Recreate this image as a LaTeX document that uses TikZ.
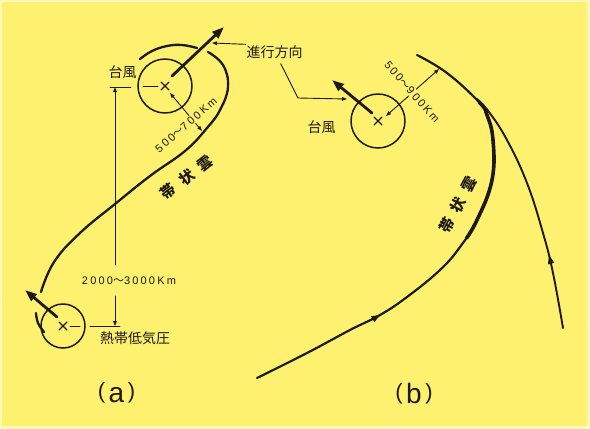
\documentclass[tikz,border=0pt]{standalone}
\usepackage{fontspec}
\setmainfont{Liberation Sans}
\newfontfamily\cjk{Noto Sans CJK JP}
\newfontfamily\numfont[LetterSpace=20]{Liberation Sans}
\usetikzlibrary{arrows.meta, calc, decorations.markings}
\definecolor{paper}{RGB}{255, 241, 112}
\definecolor{rim}{RGB}{255, 249, 185}
\definecolor{ink}{RGB}{28, 26, 18}
\tikzset{every path/.style={line cap=round, line join=round}, >={Triangle[length=5pt, width=3.6pt]}}

\begin{document}
\begin{tikzpicture}[x=1pt, y=-1pt,
    storm/.style={
        draw=ink,
        circle,
        line width=1.5pt,
        inner sep=0pt
    },
    centremark/.style={
        draw=ink,
        line width=1.3pt
    },
    band/.style={
        draw=ink,
        line width=2.3pt
    },
    motion/.style={
        draw=ink,
        line width=2.8pt,
        -{Triangle[length=12pt, width=8.5pt]}
    },
    dim/.style={
        draw=ink,
        line width=0.9pt
    },
    jplabel/.style={
        inner sep=0pt,
        text=ink,
        font=\cjk\fontsize{14}{14}\selectfont
    },
    bandlabel/.style={
        inner sep=0pt,
        text=ink,
        font=\cjk\bfseries\fontsize{15}{15}\selectfont
    },
    kmlabel/.style={
        inner sep=1pt,
        fill=paper,
        text=ink,
        font=\numfont\fontsize{11}{11}\selectfont
    },
    panel/.style={
        anchor=base,
        inner sep=0pt,
        text=ink
    },
    flowarrow/.style={
        postaction={decorate},
        decoration={markings, mark=at position #1 with {\arrow{Triangle[length=9pt, width=6pt]}}}
    }
]

\useasboundingbox (0,0) rectangle (590,429);
\fill[rim] (0,0) rectangle (590,429);
\fill[paper] (2,2) rectangle (587,426);

% (a) typhoon and tropical depression
\node[storm, minimum size=54pt] (tyA) at (165,86) {};
\node[storm, minimum size=44pt] (tdA) at (63,326) {};
\draw[centremark] ($(tyA)+(-4,-4)$) -- ($(tyA)+(4,4)$) ($(tyA)+(-4,4)$) -- ($(tyA)+(4,-4)$);
\draw[centremark] ($(tdA)+(-4,-4)$) -- ($(tdA)+(4,4)$) ($(tdA)+(-4,4)$) -- ($(tdA)+(4,-4)$);

\draw[band] plot[smooth, tension=0.7] coordinates {(44,332) (38,323) (36,313)};
\draw[band] plot[smooth, tension=0.7] coordinates {(41,292) (54,262) (80,233) (115,204) (150,176) (185,151) (207,128) (220,110) (228,87) (223,65) (208,52)};
\draw[band] plot[smooth, tension=0.7] coordinates {(197,48) (182,45) (167,46) (152,51) (140,59)};

\coordinate (tipA) at (224,27);
\coordinate (tipD) at (25,290);
\draw[motion] ($(tyA)+(7,-10)$) -- (tipA);
\draw[motion] ($(tdA)+(-6,-9)$) -- (tipD);

\node[jplabel] (tyAlabel) at (122.5,72) {台風};
\node[jplabel] (tdAlabel) at (135,338.5) {熱帯低気圧};
\node[jplabel, anchor=west] (dirlabel) at (246.5,52) {進行方向};
\coordinate (dirA) at (212,43);
\draw[dim,->] ($(dirlabel.north west)+(-1,-1)$) -- (dirA);

\coordinate (topT) at (115,87);
\coordinate (botT) at (115,326);
\node[kmlabel, fill=none] (distA) at (129,281) {2000{\cjk 〜}3000Km};
\draw[dim] ($(topT)+(-5,0)$) -- ($(topT)+(16,0)$);
\draw[dim] ($(tyA)+(-22,0)$) -- ($(tyA)+(-7,0)$);
\draw[dim] ($(botT)+(-25,0)$) -- ($(botT)+(5,0)$);
\draw[dim] ($(tdA)+(7,0)$) -- ($(tdA)+(17,0)$);
\draw[dim,->] ($(distA.north -| topT)+(0,-11)$) -- (topT);
\draw[dim,->] ($(distA.south -| botT)+(0,10)$) -- (botT);

\coordinate (rA1) at (170,93);
\coordinate (rA2) at (202,131);
\draw[dim,<->] (rA1) -- (rA2);
\node[kmlabel, rotate=41] (radA) at (186,125) {500{\cjk 〜}700Km};
\node[bandlabel, rotate=37.5] (bandA) at (186.5,177.5) {帯\hspace{8pt}状\hspace{8pt}雲};

% (b) typhoon with band cloud and inflow
\node[storm, minimum size=54pt] (tyB) at (378,121) {};
\draw[centremark] ($(tyB)+(-4,-4)$) -- ($(tyB)+(4,4)$) ($(tyB)+(-4,4)$) -- ($(tyB)+(4,-4)$);

\draw[band, line width=2.2pt, flowarrow=0.29] plot[smooth, tension=0.7] coordinates {(257,378) (307,353) (350,330) (380,315) (407,297) (440,270) (460,247) (477,220) (492,180) (493,140) (487,115) (479,102) (447,73) (417,55)};
\draw[band, line width=3.6pt, dash pattern=on 145pt off 1000pt, dash phase=890pt] plot[smooth, tension=0.7] coordinates {(257,378) (307,353) (350,330) (380,315) (407,297) (440,270) (460,247) (477,220) (492,180) (493,140) (487,115) (479,102) (447,73) (417,55)};
\draw[band, line width=1.9pt, flowarrow=0.3] plot[smooth, tension=0.7] coordinates {(563,328) (553,273) (543,233) (527,183) (507,140) (489,112) (477,99)};

\coordinate (tipB) at (332,80);
\draw[motion] ($(tyB)+(-6,-8)$) -- (tipB);

\node[jplabel] (tyBlabel) at (321.7,127.5) {台風};
\coordinate (bendB) at (298,98);
\coordinate (dirB) at (347,99);
\draw[dim,->] ($(dirlabel.south)+(6,5)$) -- (bendB) -- (dirB);

\coordinate (rB1) at (386,116);
\coordinate (rB2) at (439,69);
\draw[dim,<->] (rB1) -- (rB2);
\node[kmlabel, rotate=-49] (radB) at (412,92) {500{\cjk 〜}900Km};
\node[bandlabel, rotate=62] (bandB) at (458,205) {帯\hspace{8pt}状\hspace{8pt}雲};

% panel captions
\node[panel] (capA) at (116.5,402) {\fontsize{22}{22}\selectfont\raisebox{3.6pt}{(}\hspace{3.5pt}\fontsize{28}{28}\selectfont a\hspace{3.5pt}\fontsize{22}{22}\selectfont\raisebox{3.6pt}{)}};
\node[panel] (capB) at (414,403) {\fontsize{22}{22}\selectfont\raisebox{3.6pt}{(}\hspace{3.5pt}\fontsize{28}{28}\selectfont b\hspace{3.5pt}\fontsize{22}{22}\selectfont\raisebox{3.6pt}{)}};

\end{tikzpicture}
\end{document}
